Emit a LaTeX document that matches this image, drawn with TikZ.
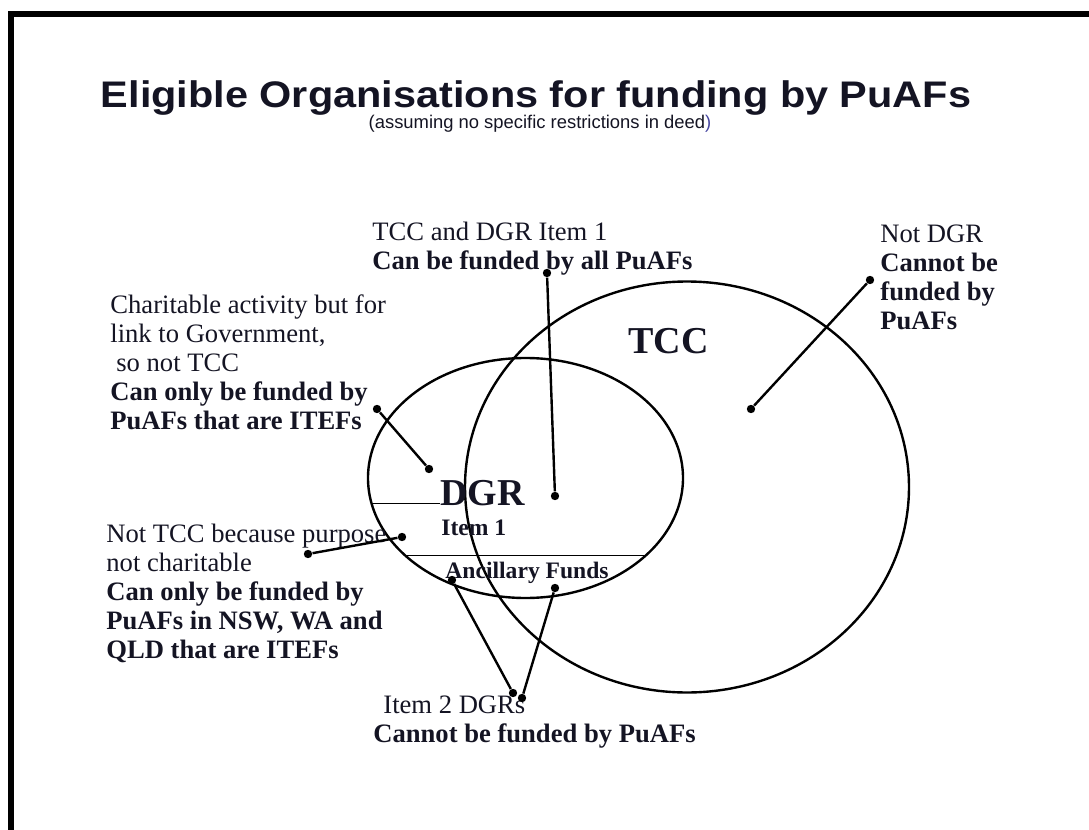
\documentclass[tikz,border=0pt]{standalone}
\usepackage{graphicx}
\usepackage{fontspec}
\setmainfont{Liberation Serif}
\newfontfamily\headfont{Liberation Sans}
\definecolor{ink}{RGB}{20,20,35}
\definecolor{paren}{RGB}{70,70,160}
\begin{document}
\begin{tikzpicture}[x=0.5pt,y=-0.5pt,
  every node/.style={text=ink},
  note/.style={anchor=north west,align=left,inner sep=0pt,font=\fontsize{13.3}{14.5}\selectfont},
  tag/.style={anchor=base west,inner sep=0pt,font=\bfseries\fontsize{19}{22}\selectfont},
  subtag/.style={anchor=base west,inner sep=0pt,font=\bfseries\fontsize{11.8}{13}\selectfont},
  dot/.style={circle,fill=black,inner sep=0pt,minimum size=4.2pt},
  link/.style={line width=1.2pt},
  ring/.style={line width=1.2pt}]
\useasboundingbox (0,0) rectangle (1089,830);
% frame
\draw[line width=3pt] (11,830) -- (11,14) -- (1089,14);

% heading
\path (536,107) node[anchor=base,font=\headfont\bfseries\fontsize{18.5}{22}\selectfont] (title) {\scalebox{1.12}[1]{Eligible Organisations for funding by PuAFs}};
\path (540,128) node[anchor=base,font=\headfont\fontsize{9.2}{11}\selectfont] (subtitle) {(assuming no specific restrictions in deed\textcolor{paren}{)}};

% circles
\path (687,487) coordinate (tcc);
\path (525.5,478) coordinate (dgr);
\draw[ring] (tcc) ellipse [x radius=111pt, y radius=102.75pt];
\draw[ring] (dgr) ellipse [x radius=78.75pt, y radius=60pt];
\draw[line width=0.5pt] (371,503) -- (440,503);
\draw[line width=0.5pt] (404,555) -- (647,555);

\path (628,353) node[tag] (tcclabel) {TCC};
\path (440,505) node[tag] (dgrlabel) {DGR};
\path (441,535) node[subtag] (item1) {Item 1};
\path (445,578) node[subtag] (ancillary) {Ancillary Funds};

% notes
\path (372,222) node[note] (both) {TCC and DGR Item 1\\\textbf{Can be funded by all PuAFs}};
\path (880,224) node[note] (notdgr) {Not DGR\\\textbf{Cannot be}\\\textbf{funded by}\\\textbf{PuAFs}};
\path (110,294) node[note] (govt) {Charitable activity but for\\link to Government,\\\hspace{3pt}so not TCC\\\textbf{Can only be funded by}\\\textbf{PuAFs that are ITEFs}};
\path (106,524) node[note] (nottcc) {Not TCC because purpose\\not charitable\\\textbf{Can only be funded by}\\\textbf{PuAFs in NSW, WA and}\\\textbf{QLD that are ITEFs}};
\path (373,695) node[note] (item2) {\hspace{5pt}Item 2 DGRs\\\textbf{Cannot be funded by PuAFs}};

% dots
\path (547,273) node[dot] (bothA) {};
\path (555,496) node[dot] (bothB) {};
\path (870,280) node[dot] (notdgrA) {};
\path (751,409) node[dot] (notdgrB) {};
\path (377,409) node[dot] (govtA) {};
\path (429,469) node[dot] (govtB) {};
\path (308,554) node[dot] (nottccA) {};
\path (402,537) node[dot] (nottccB) {};
\path (452,580) node[dot] (ancA) {};
\path (555,588) node[dot] (ancB) {};
\path (513,693) node[dot] (item2A) {};
\path (522,698) node[dot] (item2B) {};

% draw
\draw[link] (bothA) -- (bothB);
\draw[link] (notdgrA) -- (notdgrB);
\draw[link] (govtA) -- (govtB);
\draw[link] (nottccA) -- (nottccB);
\draw[link] (ancA) -- (item2A);
\draw[link] (ancB) -- (item2B);
\end{tikzpicture}
\end{document}
